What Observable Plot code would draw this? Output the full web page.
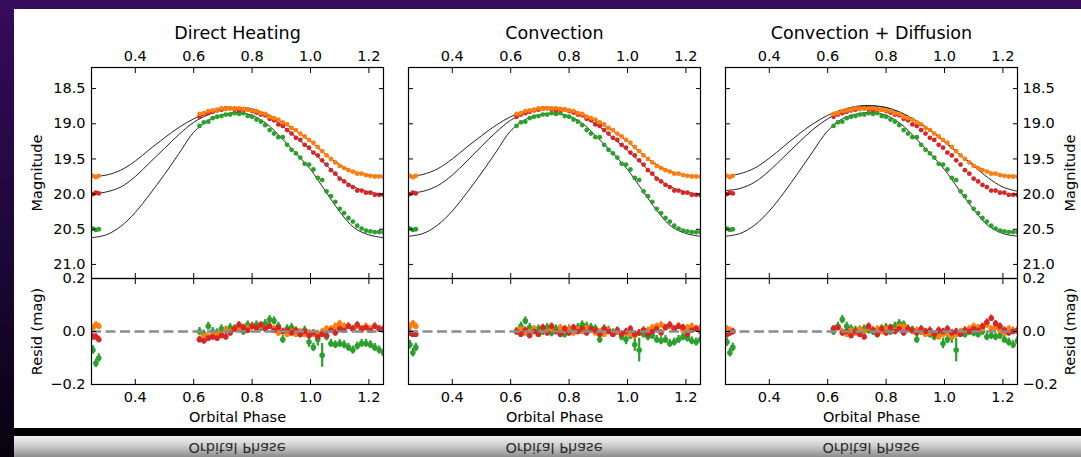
<!DOCTYPE html>
<html><head><meta charset="utf-8">
<script src="https://cdn.jsdelivr.net/npm/d3@7"></script>
<script src="https://cdn.jsdelivr.net/npm/@observablehq/plot@0.6"></script>
<style>
html,body{margin:0;padding:0;width:1081px;height:457px;overflow:hidden;background:#1c0636}
#stage{position:relative;width:1081px;height:457px;background:linear-gradient(#360b5c,#1a0733 60%,#07020f);font-family:"DejaVu Sans",sans-serif;overflow:hidden}
#slide{position:absolute;left:14px;top:9px;width:1067px;height:419px;background:#fff}
#bar{position:absolute;left:14px;top:428px;width:1067px;height:8px;background:#000}
#refl{position:absolute;left:14px;top:436px;width:1067px;height:21px;background:linear-gradient(#f2f2f2,#cfcfcf 45%,#8c8c8c)}
svg{overflow:visible}
</style>
</head><body>
<div id="stage"><div id="slide"></div><div id="bar"></div><div id="refl"></div></div>
<script>
// ---------------- data ----------------
const titles = ["Direct Heating", "Convection", "Convection + Diffusion"];
const yLabelTop = "Magnitude";
const yLabelBottom = "Resid (mag)";
const xLabel = "Orbital Phase";
const xTicks = [0.4, 0.6, 0.8, 1.0, 1.2];
const magTicks = [18.5, 19.0, 19.5, 20.0, 20.5, 21.0];
const resTicks = [-0.2, 0.0, 0.2];
const zeroLine = [0];

// observed phases (shared by all panels)
const phases = [0.255,0.265,0.275,0.62,0.635,0.65,0.665,0.68,0.695,0.71,0.725,0.74,0.755,0.77,0.785,0.80,0.815,0.83,0.845,0.86,0.875,0.89,0.905,0.92,0.935,0.95,0.965,0.98,0.995,1.01,1.025,1.04,1.055,1.07,1.085,1.10,1.115,1.13,1.145,1.16,1.175,1.19,1.205,1.22,1.235,1.25];
const magOrange = [19.74,19.76,19.74,18.86,18.85,18.82,18.81,18.80,18.78,18.79,18.78,18.78,18.78,18.79,18.80,18.81,18.82,18.85,18.86,18.90,18.92,18.94,18.98,19.01,19.06,19.09,19.14,19.18,19.23,19.27,19.33,19.39,19.45,19.50,19.55,19.60,19.63,19.66,19.68,19.71,19.71,19.73,19.74,19.75,19.75,19.75];
const magRed = [20.00,19.98,19.99,18.90,18.87,18.85,18.83,18.81,18.80,18.78,18.78,18.79,18.81,18.80,18.80,18.82,18.84,18.87,18.88,18.93,18.95,19.01,19.03,19.09,19.14,19.20,19.23,19.30,19.34,19.41,19.45,19.52,19.58,19.66,19.71,19.78,19.82,19.87,19.90,19.95,19.95,19.98,19.98,20.01,20.01,20.01];
const magGreen = [20.49,20.51,20.50,19.03,18.98,18.97,18.92,18.90,18.89,18.87,18.87,18.85,18.86,18.85,18.89,18.90,18.94,18.97,19.02,19.09,19.14,19.19,19.19,19.30,19.37,19.42,19.48,19.57,19.58,19.65,19.77,19.80,19.96,20.03,20.11,20.21,20.27,20.34,20.39,20.45,20.49,20.52,20.53,20.54,20.54,20.54];
const errOrange = 0.012;
const errRed = 0.012;
const errGreen = [0.016,0.016,0.016,0.015,0.015,0.015,0.015,0.015,0.015,0.015,0.015,0.015,0.015,0.015,0.015,0.015,0.015,0.015,0.015,0.015,0.015,0.015,0.015,0.015,0.015,0.015,0.015,0.015,0.02,0.016,0.025,0.045,0.015,0.015,0.015,0.015,0.015,0.015,0.015,0.015,0.015,0.015,0.015,0.015,0.015,0.015];

// model curves
const modelPhase = [0.25,0.30,0.35,0.40,0.45,0.50,0.55,0.60,0.65,0.70,0.75,0.80,0.85,0.90,0.95,1.00,1.05,1.10,1.15,1.20,1.25];
const modelOrange1 = [19.75,19.73,19.66,19.53,19.36,19.20,19.05,18.93,18.84,18.79,18.77,18.79,18.86,18.97,19.10,19.25,19.43,19.58,19.68,19.73,19.75];
const modelRed1    = [20.00,19.97,19.90,19.75,19.55,19.35,19.15,18.98,18.87,18.80,18.78,18.80,18.88,19.02,19.19,19.37,19.57,19.77,19.90,19.97,20.00];
const modelGreen1  = [20.62,20.58,20.46,20.26,20.00,19.72,19.42,19.12,18.95,18.87,18.84,18.88,19.00,19.20,19.42,19.65,19.95,20.25,20.48,20.58,20.62];
const modelOrange2 = [19.75,19.72,19.64,19.50,19.33,19.17,19.02,18.90,18.82,18.78,18.77,18.80,18.87,18.98,19.10,19.25,19.43,19.58,19.68,19.73,19.75];
const modelRed2    = [19.99,19.96,19.88,19.73,19.53,19.32,19.12,18.95,18.85,18.79,18.78,18.81,18.90,19.03,19.20,19.38,19.57,19.77,19.90,19.97,20.00];
const modelGreen2  = [20.60,20.56,20.44,20.24,19.98,19.70,19.40,19.10,18.94,18.87,18.85,18.89,19.01,19.21,19.42,19.65,19.94,20.23,20.46,20.56,20.60];
const modelOrange3 = [19.74,19.71,19.63,19.49,19.32,19.15,19.00,18.88,18.80,18.75,18.74,18.77,18.84,18.95,19.09,19.25,19.43,19.58,19.68,19.73,19.74];
const modelRed3    = [19.95,19.92,19.83,19.67,19.47,19.27,19.08,18.93,18.82,18.77,18.75,18.77,18.84,18.95,19.09,19.26,19.43,19.60,19.77,19.90,19.96];
const modelGreen3  = [20.60,20.56,20.44,20.24,19.98,19.69,19.39,19.10,18.93,18.86,18.84,18.88,19.00,19.20,19.42,19.65,19.94,20.22,20.45,20.56,20.60];

// residuals
const resOrange1 = [0.015,0.025,0.02,-0.03,-0.015,-0.02,-0.015,-0.01,-0.01,0.005,0.0,0.01,0.01,0.015,0.015,0.02,0.01,0.02,0.01,0.02,0.01,-0.005,0.0,-0.01,0.0,-0.01,0.0,-0.01,-0.005,-0.01,-0.01,0.0,0.01,0.01,0.02,0.03,0.02,0.02,0.01,0.02,0.005,0.02,0.01,0.02,0.01,0.01];
const resRed1 = [-0.02,-0.02,-0.03,-0.03,-0.035,-0.025,-0.02,-0.025,-0.015,-0.02,-0.005,0.01,0.025,0.015,0.005,0.02,0.015,0.025,0.01,0.02,0.005,0.015,0.0,0.005,-0.005,0.005,-0.01,0.0,-0.015,-0.005,-0.02,-0.01,-0.015,0.005,-0.005,0.01,0.005,0.02,0.01,0.025,0.01,0.015,0.005,0.02,0.01,0.01];
const resGreen1 = [-0.07,-0.12,-0.10,0.0,-0.01,0.02,0.0,-0.005,0.01,0.005,0.015,0.01,0.02,0.0,0.025,0.02,0.025,0.015,0.03,0.045,0.04,0.02,-0.03,0.01,0.015,0.0,-0.01,0.005,-0.04,-0.06,-0.03,-0.09,-0.02,-0.045,-0.05,-0.045,-0.05,-0.06,-0.07,-0.055,-0.045,-0.045,-0.05,-0.06,-0.07,-0.08];
const resOrange2 = [0.02,0.03,0.02,0.0,0.01,-0.005,0.0,0.01,-0.01,0.005,0.0,0.01,0.0,0.015,0.005,0.01,-0.005,0.01,0.0,0.015,0.005,-0.005,0.0,-0.01,0.005,-0.01,0.0,-0.01,-0.005,-0.01,-0.015,-0.005,0.005,0.005,0.015,0.02,0.025,0.015,0.02,0.01,0.02,0.005,0.015,0.02,0.01,0.015];
const resRed2 = [-0.005,-0.01,-0.01,0.0,-0.01,0.005,-0.015,0.0,-0.01,0.015,-0.005,0.02,0.0,-0.01,0.01,-0.005,0.015,0.0,0.01,-0.005,0.01,0.005,-0.01,0.01,0.0,-0.01,0.005,-0.01,0.0,0.01,-0.01,-0.005,0.005,-0.01,0.0,0.01,-0.005,0.015,0.025,0.01,0.02,0.015,-0.01,0.005,0.01,0.0];
const resGreen2 = [-0.05,-0.08,-0.06,0.0,0.02,0.04,0.015,0.005,0.01,0.0,0.015,-0.005,0.01,0.0,-0.01,0.01,0.005,0.015,0.025,0.02,0.015,0.01,-0.03,0.01,0.005,-0.005,0.0,-0.02,-0.03,-0.015,-0.05,-0.07,-0.01,-0.02,-0.015,-0.03,-0.035,-0.03,-0.045,-0.04,-0.03,-0.02,-0.025,-0.035,-0.04,-0.03];
const resOrange3 = [0.01,0.005,0.0,0.01,0.015,0.0,-0.01,0.005,-0.005,0.01,0.0,0.015,0.005,0.01,0.0,0.01,0.015,0.005,0.02,0.02,0.01,0.0,0.005,0.0,-0.01,-0.005,-0.01,-0.02,-0.01,-0.005,-0.02,-0.01,0.0,0.005,0.01,0.02,0.015,0.01,0.025,0.01,0.015,0.005,-0.005,0.01,0.005,0.0];
const resRed3 = [-0.01,-0.005,0.0,0.01,0.015,-0.005,0.0,-0.015,0.0,-0.01,-0.02,0.02,0.005,-0.01,0.01,-0.005,0.015,0.0,0.01,-0.005,0.01,0.005,-0.005,0.01,0.0,0.005,-0.01,0.005,0.0,0.01,-0.005,0.0,-0.01,0.005,0.0,0.01,0.005,0.02,0.035,0.05,0.03,0.02,0.005,-0.005,0.0,0.005];
const resGreen3 = [-0.04,-0.08,-0.06,0.0,0.02,0.045,0.02,0.01,0.005,0.0,0.01,0.005,0.0,-0.01,0.01,0.015,0.0,0.02,0.03,0.025,0.01,0.005,-0.03,0.0,-0.005,-0.01,-0.02,-0.015,-0.045,-0.03,-0.02,-0.07,-0.005,-0.01,0.0,-0.005,-0.01,0.0,-0.02,-0.015,-0.02,-0.015,-0.03,-0.04,-0.05,-0.035];

// ---------------- build ----------------
const colors = {orange: "#ff7f0e", red: "#d62728", green: "#2ca02c"};
const mags = {orange: magOrange, red: magRed, green: magGreen};
const errs = {orange: phases.map(() => errOrange), red: phases.map(() => errRed), green: errGreen};
const models = [
  {orange: modelOrange1, red: modelRed1, green: modelGreen1},
  {orange: modelOrange2, red: modelRed2, green: modelGreen2},
  {orange: modelOrange3, red: modelRed3, green: modelGreen3}
];
const resids = [
  {orange: resOrange1, red: resRed1, green: resGreen1},
  {orange: resOrange2, red: resRed2, green: resGreen2},
  {orange: resOrange3, red: resRed3, green: resGreen3}
];

const xDomain = [0.25, 1.25];
const magDomain = [18.2, 21.2];
const resDomain = [-0.2, 0.2];
const frameLeft = [91, 408, 725];
const frameW = 292, topY = 67, sepY = 278, botY = 384;
const mL = 80, mR = 70;
const stage = document.getElementById("stage");
const fmt = d3.format(".1f");
const noText = () => "";
const baseStyle = {background: "transparent", overflow: "visible", maxWidth: "none",
  fontFamily: "'DejaVu Sans', sans-serif", fontSize: "14.5px", color: "black"};

function place(svg, left, top) {
  svg.style.position = "absolute";
  svg.style.left = left + "px";
  svg.style.top = top + "px";
  stage.appendChild(svg);
}

for (let i = 0; i < 3; i++) {
  const lines = [];
  for (const b of ["orange", "red", "green"]) {
    modelPhase.forEach((p, k) => lines.push({phase: p, mag: models[i][b][k], band: b}));
  }
  const dotMarks = ["green", "red", "orange"].map(b =>
    Plot.dot(phases.map((p, k) => ({phase: p, mag: mags[b][k]})),
      {x: "phase", y: "mag", r: 2.4, fill: colors[b], stroke: "none", clip: true}));
  const topPlot = Plot.plot({
    width: mL + frameW + mR, height: topY + (sepY - topY),
    marginLeft: mL, marginRight: mR, marginTop: topY, marginBottom: 0,
    style: baseStyle,
    x: {domain: xDomain},
    y: {domain: magDomain, reverse: true},
    marks: [
      Plot.line(lines, {x: "phase", y: "mag", z: "band", stroke: "#222", strokeWidth: 1, curve: "catmull-rom", clip: true}),
      ...dotMarks,
      Plot.frame({stroke: "black", strokeWidth: 1.2}),
      Plot.axisX(xTicks, {anchor: "top", tickSize: -5, tickPadding: 12, tickFormat: fmt, label: null}),
      Plot.axisX(xTicks, {anchor: "bottom", tickSize: -5, tickFormat: noText, label: null}),
      Plot.axisY(magTicks, {anchor: "left", tickSize: -5, tickPadding: 11,
        tickFormat: i === 0 ? fmt : noText,
        label: i === 0 ? yLabelTop : null, labelAnchor: "center", labelOffset: 60, labelArrow: "none"}),
      Plot.axisY(magTicks, {anchor: "right", tickSize: -5, tickPadding: 10,
        tickFormat: i === 2 ? fmt : noText,
        label: i === 2 ? yLabelTop : null, labelAnchor: "center", labelOffset: 57, labelArrow: "none"}),
      Plot.text([titles[i]], {text: d => d, frameAnchor: "top", lineAnchor: "bottom", dy: -29, fontSize: 17.5, fill: "black"})
    ]
  });
  place(topPlot, frameLeft[i] - mL, 0);

  const errMarks = ["green", "orange", "red"].map(b =>
    Plot.ruleX(phases.map((p, k) => ({phase: p, lo: resids[i][b][k] - errs[b][k], hi: resids[i][b][k] + errs[b][k]})),
      {x: "phase", y1: "lo", y2: "hi", stroke: colors[b], strokeWidth: 2.2, clip: true}));
  const resDots = ["green", "orange", "red"].map(b =>
    Plot.dot(phases.map((p, k) => ({phase: p, res: resids[i][b][k]})),
      {x: "phase", y: "res", r: 2.8, fill: colors[b], stroke: "none", clip: true}));
  const botPlot = Plot.plot({
    width: mL + frameW + mR, height: (botY - sepY) + 50,
    marginLeft: mL, marginRight: mR, marginTop: 0, marginBottom: 50,
    style: baseStyle,
    x: {domain: xDomain},
    y: {domain: resDomain},
    marks: [
      ...errMarks,
      ...resDots,
      Plot.ruleY(zeroLine, {y: d => d, stroke: "#8c8c8c", strokeWidth: 2.5, strokeDasharray: "10,4.5"}),
      Plot.frame({stroke: "black", strokeWidth: 1.2}),
      Plot.axisX(xTicks, {anchor: "bottom", tickSize: -5, tickPadding: 12.7, tickFormat: fmt,
        label: xLabel, labelAnchor: "center", labelOffset: 37, labelArrow: "none"}),
      Plot.axisX(xTicks, {anchor: "top", tickSize: -5, tickFormat: noText, label: null}),
      Plot.axisY(resTicks, {anchor: "left", tickSize: -5, tickPadding: 11,
        tickFormat: i === 0 ? fmt : noText,
        label: i === 0 ? yLabelBottom : null, labelAnchor: "center", labelOffset: 60, labelArrow: "none"}),
      Plot.axisY(resTicks, {anchor: "right", tickSize: -5, tickPadding: 10,
        tickFormat: i === 2 ? fmt : noText,
        label: i === 2 ? yLabelBottom : null, labelAnchor: "center", labelOffset: 57, labelArrow: "none"})
    ]
  });
  place(botPlot, frameLeft[i] - mL, sepY);
}

// reflection strip text (mirrored slide bottom)
const refl = d3.select(stage).append("svg")
  .attr("width", 1081).attr("height", 457)
  .style("position", "absolute").style("left", "0px").style("top", "0px");
frameLeft.forEach(l => {
  refl.append("text")
    .attr("transform", `translate(${l + frameW / 2},443) scale(1,-1)`)
    .attr("text-anchor", "middle")
    .attr("font-family", "'DejaVu Sans', sans-serif")
    .attr("font-size", 14.5)
    .attr("fill", "#2b2b2b")
    .text(xLabel);
});
</script>
</body></html>
